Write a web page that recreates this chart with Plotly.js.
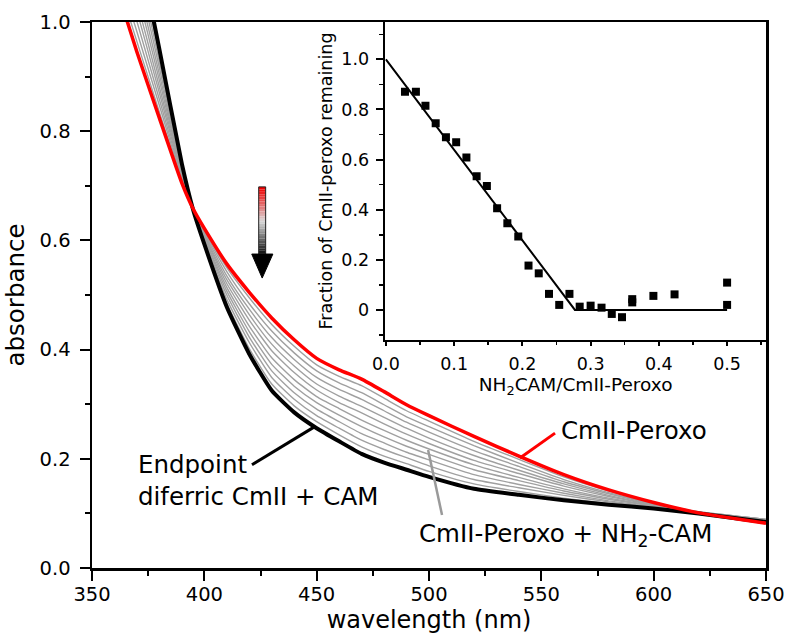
<!DOCTYPE html>
<html>
<head>
<meta charset="utf-8">
<script src="https://cdn.plot.ly/plotly-3.0.1.min.js"></script>
<style>html,body{margin:0;padding:0;background:#fff}#chart{width:785px;height:639px}</style>
</head>
<body>
<div id="chart"></div>
<script>
// ---- main spectra (wavelength in nm, absorbance) ----
const wavelength = [360, 370, 380, 390, 395, 400, 410, 420, 430, 440, 450, 460, 470, 480, 490, 500, 520, 540, 560, 580, 600, 620, 650];
const absPeroxo   = [1.075, 0.945, 0.824, 0.705, 0.658, 0.622, 0.557, 0.505, 0.458, 0.418, 0.384, 0.363, 0.346, 0.323, 0.299, 0.279, 0.241, 0.205, 0.171, 0.143, 0.120, 0.101, 0.082];
const absEndpoint = [1.300, 1.150, 0.950, 0.740, 0.656, 0.593, 0.478, 0.392, 0.325, 0.285, 0.256, 0.232, 0.209, 0.193, 0.180, 0.167, 0.145, 0.134, 0.124, 0.116, 0.109, 0.100, 0.084];
const titr01 = [1.095, 0.964, 0.835, 0.708, 0.658, 0.619, 0.550, 0.495, 0.446, 0.406, 0.372, 0.351, 0.334, 0.311, 0.288, 0.269, 0.232, 0.199, 0.167, 0.141, 0.119, 0.103, 0.089];
const titr02 = [1.116, 0.982, 0.847, 0.711, 0.658, 0.617, 0.543, 0.484, 0.434, 0.394, 0.361, 0.339, 0.321, 0.299, 0.277, 0.259, 0.224, 0.192, 0.162, 0.138, 0.118, 0.103, 0.089];
const titr03 = [1.136, 1.001, 0.858, 0.715, 0.657, 0.614, 0.535, 0.474, 0.422, 0.382, 0.349, 0.327, 0.309, 0.288, 0.267, 0.249, 0.215, 0.186, 0.158, 0.136, 0.117, 0.102, 0.089];
const titr04 = [1.157, 1.020, 0.870, 0.718, 0.657, 0.611, 0.528, 0.464, 0.410, 0.370, 0.337, 0.315, 0.296, 0.276, 0.256, 0.238, 0.206, 0.179, 0.154, 0.133, 0.116, 0.102, 0.088];
const titr05 = [1.177, 1.038, 0.881, 0.721, 0.657, 0.609, 0.521, 0.454, 0.398, 0.358, 0.326, 0.303, 0.284, 0.264, 0.245, 0.228, 0.197, 0.173, 0.150, 0.131, 0.115, 0.102, 0.088];
const titr06 = [1.198, 1.057, 0.893, 0.724, 0.657, 0.606, 0.514, 0.443, 0.385, 0.345, 0.314, 0.292, 0.271, 0.252, 0.234, 0.218, 0.189, 0.166, 0.145, 0.128, 0.114, 0.101, 0.088];
const titr07 = [1.218, 1.075, 0.904, 0.727, 0.657, 0.604, 0.507, 0.433, 0.373, 0.333, 0.303, 0.280, 0.259, 0.240, 0.223, 0.208, 0.180, 0.160, 0.141, 0.126, 0.113, 0.101, 0.087];
const titr08 = [1.239, 1.094, 0.916, 0.730, 0.657, 0.601, 0.500, 0.423, 0.361, 0.321, 0.291, 0.268, 0.246, 0.229, 0.212, 0.198, 0.171, 0.153, 0.137, 0.123, 0.112, 0.101, 0.087];
const titr09 = [1.259, 1.113, 0.927, 0.734, 0.656, 0.598, 0.492, 0.413, 0.349, 0.309, 0.279, 0.256, 0.234, 0.217, 0.202, 0.187, 0.162, 0.147, 0.133, 0.121, 0.111, 0.100, 0.086];
const titr10 = [1.280, 1.131, 0.939, 0.737, 0.656, 0.596, 0.485, 0.402, 0.337, 0.297, 0.268, 0.244, 0.222, 0.205, 0.191, 0.177, 0.154, 0.140, 0.128, 0.118, 0.110, 0.100, 0.086];

// ---- inset: titration fraction ----
const ratio    = [0.028, 0.044, 0.058, 0.073, 0.088, 0.103, 0.118, 0.133, 0.148, 0.163, 0.178, 0.194, 0.209, 0.224, 0.239, 0.254, 0.269, 0.284, 0.300, 0.316, 0.331, 0.346, 0.361, 0.361, 0.392, 0.423, 0.500, 0.500];
const fraction = [0.871, 0.871, 0.815, 0.745, 0.689, 0.669, 0.608, 0.533, 0.495, 0.406, 0.346, 0.293, 0.177, 0.146, 0.064, 0.020, 0.064, 0.013, 0.017, 0.009, -0.016, -0.029, 0.043, 0.030, 0.056, 0.062, 0.109, 0.020];
const fitX = [0, 0.277, 0.5];
const fitY = [1.0, 0, 0];

// ---- tick labels ----
const mainXTicks = [350, 400, 450, 500, 550, 600, 650];
const mainYTicks = [0.0, 0.2, 0.4, 0.6, 0.8, 1.0];
const mainYText  = ['0.0', '0.2', '0.4', '0.6', '0.8', '1.0'];
const insetXTicks = [0, 0.1, 0.2, 0.3, 0.4, 0.5];
const insetXText  = ['0.0', '0.1', '0.2', '0.3', '0.4', '0.5'];
const insetYTicks = [0, 0.2, 0.4, 0.6, 0.8, 1.0];
const insetYText  = ['0', '0.2', '0.4', '0.6', '0.8', '1.0'];

const FONT = 'DejaVu Sans, Arial, sans-serif';
const titrations = [titr01, titr02, titr03, titr04, titr05, titr06, titr07, titr08, titr09, titr10];
const SMOOTH = 0.5;

const traces = [];
titrations.forEach(function (ys) {
  traces.push({x: wavelength, y: ys, type: 'scatter', mode: 'lines',
    line: {color: '#a0a0a0', width: 1.4, shape: 'spline', smoothing: SMOOTH},
    xaxis: 'x', yaxis: 'y', hoverinfo: 'skip', showlegend: false});
});
traces.push({x: wavelength, y: absEndpoint, type: 'scatter', mode: 'lines',
  line: {color: '#000000', width: 4, shape: 'spline', smoothing: SMOOTH},
  xaxis: 'x', yaxis: 'y', showlegend: false});
traces.push({x: wavelength, y: absPeroxo, type: 'scatter', mode: 'lines',
  line: {color: '#ff0000', width: 3.5, shape: 'spline', smoothing: SMOOTH},
  xaxis: 'x', yaxis: 'y', showlegend: false});
traces.push({x: fitX, y: fitY, type: 'scatter', mode: 'lines',
  line: {color: '#000000', width: 2},
  xaxis: 'x2', yaxis: 'y2', showlegend: false, cliponaxis: false});
traces.push({x: ratio, y: fraction, type: 'scatter', mode: 'markers',
  marker: {symbol: 'square', size: 8, color: '#000000'},
  xaxis: 'x2', yaxis: 'y2', showlegend: false});

// gradient arrow (decoration) built from small rectangles
const shapes = [];
const arrowX0 = 424.2, arrowX1 = 427.3, arrowTop = 0.698, arrowShaftEnd = 0.572;
const nSeg = 28;
for (let i = 0; i < nSeg; i++) {
  const t = i / (nSeg - 1);
  let r, g, b;
  if (t < 0.5) { const u = t / 0.5; r = Math.round(240 + (215 - 240) * u); g = Math.round(0 + 215 * u); b = g; }
  else { const u = (t - 0.5) / 0.5; r = Math.round(215 * (1 - u) + 10 * u); g = r; b = r; }
  const ya = arrowTop - (arrowTop - arrowShaftEnd) * i / nSeg;
  const yb = arrowTop - (arrowTop - arrowShaftEnd) * (i + 1) / nSeg;
  shapes.push({type: 'rect', xref: 'x', yref: 'y', x0: arrowX0, x1: arrowX1, y0: yb, y1: ya,
    fillcolor: 'rgb(' + r + ',' + g + ',' + b + ')', line: {width: 0}, layer: 'above'});
}
shapes.push({type: 'rect', xref: 'x', yref: 'y', x0: arrowX0, x1: arrowX1, y0: arrowShaftEnd, y1: arrowTop,
  fillcolor: 'rgba(0,0,0,0)', line: {color: '#222', width: 1}, layer: 'above'});
shapes.push({type: 'path', xref: 'x', yref: 'y',
  path: 'M 421.1 0.575 L 430.5 0.575 L 425.75 0.531 Z', fillcolor: '#000', line: {color: '#000', width: 1}, layer: 'above'});
// leader lines
shapes.push({type: 'line', xref: 'x', yref: 'y', x0: 421.2, y0: 0.189, x1: 448.8, y1: 0.258, line: {color: '#000', width: 3}});
shapes.push({type: 'line', xref: 'x', yref: 'y', x0: 540.5, y0: 0.2015, x1: 556.1, y1: 0.247, line: {color: '#ff0000', width: 3}});
shapes.push({type: 'line', xref: 'x', yref: 'y', x0: 499.6, y0: 0.216, x1: 505.8, y1: 0.097, line: {color: '#9a9a9a', width: 2.5}});

const annFont = {family: FONT, size: 24.5, color: '#000'};
const annotations = [
  {xref: 'x', yref: 'y', x: 369.5, y: 0.160, text: 'Endpoint<br>diferric CmII + CAM', showarrow: false,
   xanchor: 'left', yanchor: 'middle', align: 'left', font: annFont},
  {xref: 'x', yref: 'y', x: 557.8, y: 0.252, text: 'CmII-Peroxo', showarrow: false,
   xanchor: 'left', yanchor: 'middle', font: annFont},
  {xref: 'x', yref: 'y', x: 494.5, y: 0.060, text: 'CmII-Peroxo + NH<sub>2</sub>-CAM', showarrow: false,
   xanchor: 'left', yanchor: 'middle', font: annFont}
];

const axisCommon = {showgrid: false, zeroline: false, showline: true, linecolor: '#000', linewidth: 2.5,
  mirror: true, ticks: 'outside', tickcolor: '#000', tickwidth: 2, color: '#000'};

const layout = {
  width: 785, height: 639,
  margin: {l: 92, r: 19, t: 22, b: 71},
  paper_bgcolor: '#fff', plot_bgcolor: 'rgba(0,0,0,0)',
  font: {family: FONT, color: '#000'},
  showlegend: false,
  xaxis: Object.assign({}, axisCommon, {
    range: [350, 650], domain: [0, 1], anchor: 'y',
    tickvals: mainXTicks, ticklen: 10, ticklabelstandoff: -3,
    tickfont: {family: FONT, size: 19.5},
    minor: {dtick: 25, tick0: 350, ticklen: 5, tickwidth: 2, tickcolor: '#000', ticks: 'outside'},
    title: {text: 'wavelength (nm)', font: {family: FONT, size: 24}, standoff: 0}
  }),
  yaxis: Object.assign({}, axisCommon, {
    range: [0, 1.0], domain: [0, 1], anchor: 'x',
    tickvals: mainYTicks, ticktext: mainYText, ticklen: 10, ticklabelstandoff: 5,
    tickfont: {family: FONT, size: 19.5},
    minor: {dtick: 0.1, tick0: 0, ticklen: 5, tickwidth: 2, tickcolor: '#000', ticks: 'outside'},
    title: {text: 'absorbance', font: {family: FONT, size: 24.5}, standoff: 8}
  }),
  xaxis2: Object.assign({}, axisCommon, {
    range: [-0.001, 0.557], domain: [0.435, 1.0], anchor: 'y2',
    tickvals: insetXTicks, ticktext: insetXText, ticklen: 4, ticklabelstandoff: 3,
    tickfont: {family: FONT, size: 17.5},
    minor: {dtick: 0.05, tick0: 0, ticklen: 3, tickwidth: 1.5, tickcolor: '#000', ticks: 'outside'},
    title: {text: 'NH<sub>2</sub>CAM/CmII-Peroxo', font: {family: FONT, size: 18.5}, standoff: 4}
  }),
  yaxis2: Object.assign({}, axisCommon, {
    range: [-0.12, 1.149], domain: [0.4176, 1.0], anchor: 'x2',
    tickvals: insetYTicks, ticktext: insetYText, ticklen: 7, ticklabelstandoff: 3,
    tickfont: {family: FONT, size: 17.5},
    minor: {dtick: 0.1, tick0: 0, ticklen: 4, tickwidth: 1.5, tickcolor: '#000', ticks: 'outside'},
    title: {text: 'Fraction of CmII-peroxo remaining', font: {family: FONT, size: 17.5}, standoff: 4}
  }),
  shapes: shapes,
  annotations: annotations
};

Plotly.newPlot('chart', traces, layout, {staticPlot: true, displayModeBar: false});
</script>
</body>
</html>
